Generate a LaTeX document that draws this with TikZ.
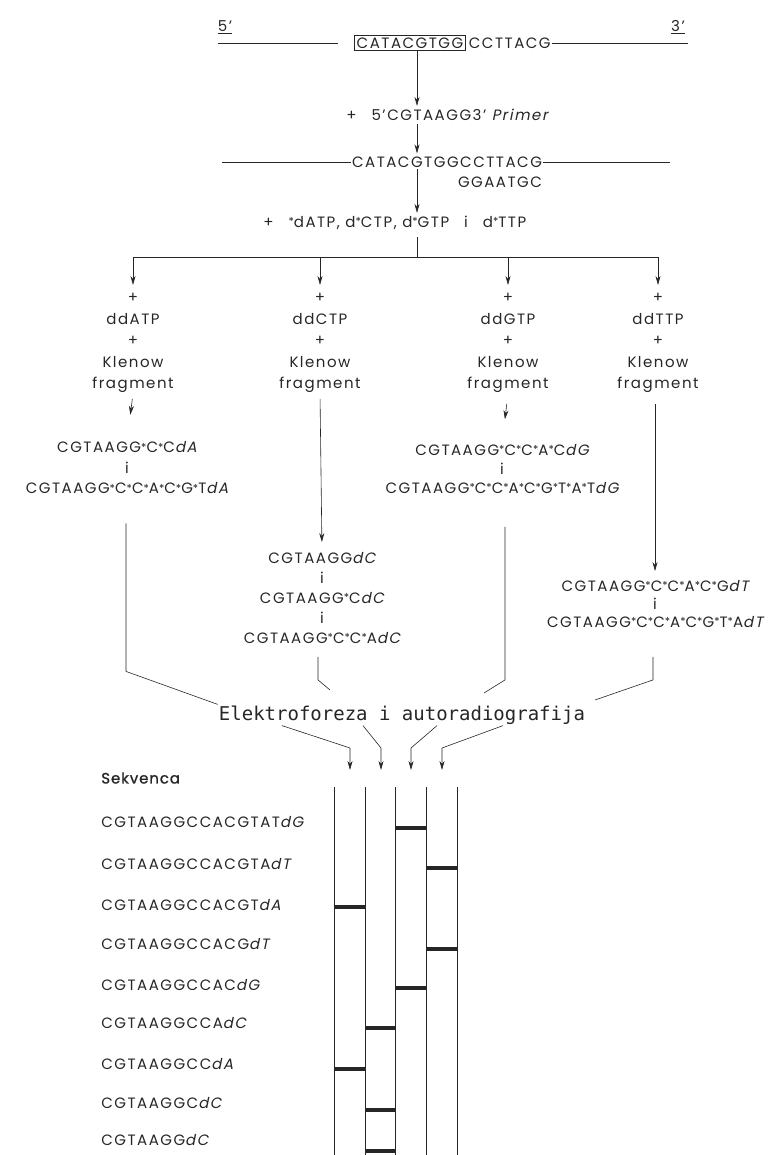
\documentclass[tikz,border=0pt]{standalone}
\usepackage{fontspec}
\setmainfont{Poppins}[LetterSpace=10]
\newfontfamily\seqsl{Poppins}[LetterSpace=10,FakeSlant=0.2]
\newfontfamily\semib{Poppins}[LetterSpace=6,FakeBold=1.2]
\newfontfamily\typew{DejaVu Sans Mono}
\usetikzlibrary{arrows.meta,positioning}
% labelled nucleotide and dideoxy end
\newcommand{\st}{\raisebox{.2ex}{\fontsize{11}{11}\selectfont*}}
\newcommand{\dN}[1]{{\seqsl d#1}}
\begin{document}
\begin{tikzpicture}[x=1pt,y=-1pt,line width=.6pt,color=black!85,
	seq/.style={inner sep=1pt,font=\fontsize{15}{20}\selectfont},
	col/.style={seq,align=center,font=\fontsize{15}{21.5}\selectfont},
	arr/.style={-{Stealth[length=9pt,width=5pt]},shorten >=2pt},
	band/.style={line width=3.2pt}]
	\useasboundingbox (0,0) rectangle (777,1155);
	% template strand
	\node[seq] (p5) at (225,27) {\underline{5'}};
	\node[seq] (p3) at (678,27) {\underline{3'}};
	\node[seq,draw,inner sep=2pt] (box) at (410,43) {CATACGTGG};
	\node[seq,right=2pt of box] (tail) {CCTTACG};
	\coordinate (l1) at (218,43); \coordinate (r1) at (688,43);
	\draw (l1) -- ([xshift=-16pt]box.west) (tail.east) -- (r1);
	\coordinate (mid) at (417,0);
	\node[seq,anchor=west] (primer) at (345,115) {+\quad 5'CGTAAGG3' {\seqsl Primer}};
	\draw[arr] (box.south -| mid) -- (primer.north -| mid);
	% primer annealed
	\node[seq] (ds) at (447,162) {CATACGTGGCCTTACG};
	\node[seq,anchor=north east] (comp) at ([yshift=-7pt]ds.south east) {GGAATGC};
	\coordinate (l2) at (222,162); \coordinate (r2) at (670,162);
	\draw (l2) -- (ds.west) (ds.east) -- (r2);
	\draw[arr,shorten <=2pt] (primer.south -| mid) -- (ds.north -| mid);
	\node[seq,anchor=west] (nuc) at (262,223) {+\quad \st dATP, d\st CTP, d\st GTP\quad i\quad d\st TTP};
	\draw[arr] (ds.south -| mid) -- (nuc.north -| mid);
	\coordinate (split) at (417,257);
	\draw[shorten <=6pt] (nuc.south -| mid) -- (split);
	\coordinate (bl) at (133,257); \coordinate (br) at (658,257);
	\draw (bl) -- (br);
	% four reactions
	\foreach \n/\x in {A/133,C/320,G/508,T/658}{
		\node[col,anchor=north] (r\n) at (\x,292) {+\\dd\n TP\\+\\Klenow\\fragment};
		\draw[arr,shorten >=7pt] (\x,257) -- (r\n.north);
	}
	\node[col,font=\fontsize{15}{20.5}\selectfont] (pA) at (127,468) {CGTAAGG\st C\st C\dN{A}\\i\\CGTAAGG\st C\st C\st A\st C\st G\st T\dN{A}};
	\node[col,font=\fontsize{15}{20}\selectfont] (pC) at (322,598) {CGTAAGG\dN{C}\\i\\CGTAAGG\st C\dN{C}\\i\\CGTAAGG\st C\st C\st A\dN{C}};
	\node[col,font=\fontsize{15}{19}\selectfont] (pG) at (502,469) {CGTAAGG\st C\st C\st A\st C\dN{G}\\i\\CGTAAGG\st C\st C\st A\st C\st G\st T\st A\st T\dN{G}};
	\node[col,font=\fontsize{15}{18}\selectfont] (pT) at (655,604) {CGTAAGG\st C\st C\st A\st C\st G\dN{T}\\i\\CGTAAGG\st C\st C\st A\st C\st G\st T\st A\dN{T}};
	\draw[arr,shorten <=5pt,shorten >=26pt] (rA.south) -- (pA.north);
	\draw[arr,shorten <=5pt,shorten >=9pt] (rC.south) -- (pC.north);
	\draw[arr,shorten <=10pt,shorten >=24pt] (rG.south) -- (pG.north);
	\draw[arr,shorten <=10pt,shorten >=8pt] (rT.south -| pT.north) -- (pT.north);
	% gel
	\node[inner sep=1pt,font=\typew\fontsize{19}{19}\selectfont] (ef) at (402,715) {Elektroforeza i autoradiografija};
	\coordinate (eC) at (330,690); \coordinate (eG) at (484,693); \coordinate (eT) at (595,700);
	\draw (pA.south) ++(-1,28) -- ++(0,148) -- (ef.north west);
	\draw (pC.south) ++(-4,12) -- ++(0,23) -- (eC);
	\draw (pG.south) ++(3,32) -- ++(0,153) -- (eG);
	\draw (pT.south) ++(-2,28) -- ++(0,23) -- (eT);
	\foreach \s/\x in {282/350,363/381,437/411,503/442}
		\draw[arr,shorten >=0pt] (ef.south -| \s,0) -- (\x,748) -- (\x,770);
	\foreach \x in {334,365,395,426,457}
		\draw[line width=.5pt] (\x,787) -- (\x,1155);
	\foreach \y/\l in {828/395,868/426,907/334,949/426,988/395,1028/365,1069/334,1110/365,1151/365}
		\draw[band] (\l,\y) -- ++(31,0);
	% read-off sequence
	\node[anchor=west,inner sep=1pt,font=\semib\fontsize{15}{15}\selectfont] (sek) at (100,778) {Sekvenca};
	\foreach \y/\t [count=\i] in {822/CGTAAGGCCACGTAT\dN{G},864/CGTAAGGCCACGTA\dN{T},905/CGTAAGGCCACGT\dN{A},944/CGTAAGGCCACG\dN{T},985/CGTAAGGCCAC\dN{G},1023/CGTAAGGCCA\dN{C},1064/CGTAAGGCC\dN{A},1103/CGTAAGGC\dN{C},1140/CGTAAGG\dN{C}}
		\node[seq,anchor=west] (sq\i) at (100,\y) {\t};
\end{tikzpicture}
\end{document}
